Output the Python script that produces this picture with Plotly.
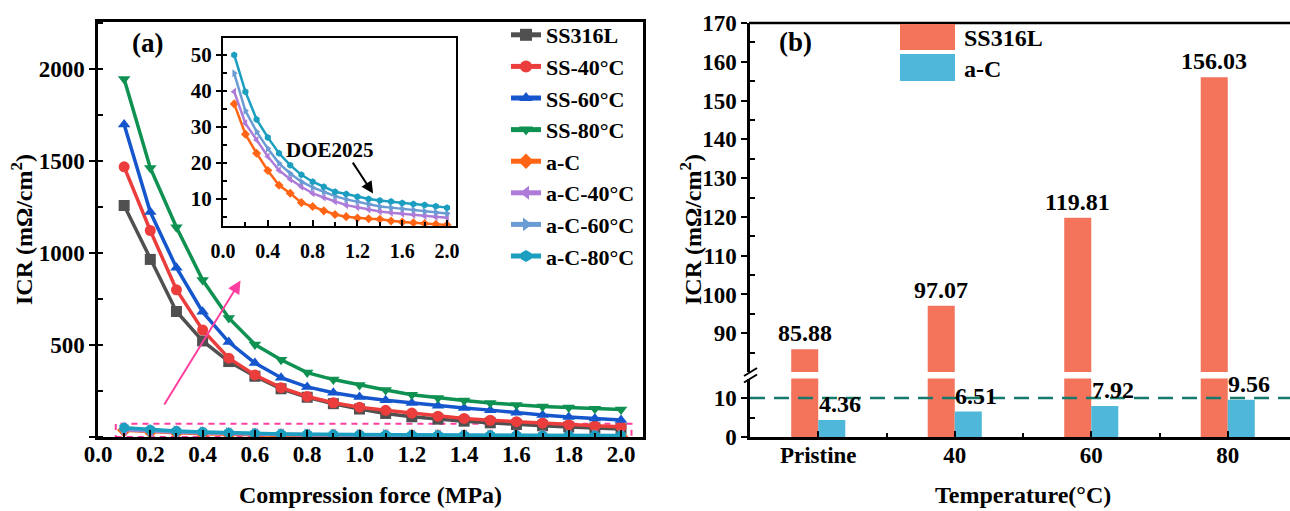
import plotly.graph_objects as go

W, H = 1290, 511
FONT = "Liberation Serif, Times New Roman, serif"

# ---- data -------------------------------------------------------------
pressure = [0.1, 0.2, 0.3, 0.4, 0.5, 0.6, 0.7, 0.8, 0.9, 1.0,
            1.1, 1.2, 1.3, 1.4, 1.5, 1.6, 1.7, 1.8, 1.9, 2.0]

ss316l = [1258, 965, 682, 522, 410, 330, 262, 216, 181, 152,
          128, 110, 97, 86, 77, 68, 61, 55, 49, 44]
ss_40 = [1468, 1122, 800, 582, 428, 337, 268, 220, 186, 162,
         145, 130, 113, 101, 91, 83, 76, 67, 61, 56]
ss_60 = [1698, 1222, 920, 680, 516, 402, 322, 272, 240, 217,
         200, 185, 170, 158, 146, 132, 120, 109, 100, 93]
ss_80 = [1945, 1462, 1140, 853, 647, 503, 420, 350, 312, 283,
         255, 230, 212, 198, 185, 174, 166, 160, 154, 149]

ac = [36.4, 28.0, 22.7, 17.9, 13.8, 11.6, 9.0, 7.9, 6.7, 5.7,
      5.1, 4.7, 4.5, 4.36, 3.9, 3.6, 3.4, 3.2, 3.0, 2.8]
ac_40 = [39.8, 31.0, 26.4, 21.8, 18.0, 15.5, 13.4, 11.6, 10.4, 9.3,
         8.3, 7.7, 7.1, 6.51, 6.2, 5.9, 5.6, 5.3, 5.0, 4.8]
ac_60 = [44.9, 34.5, 28.7, 24.0, 19.9, 17.1, 14.8, 13.2, 12.0, 10.8,
         9.9, 9.3, 8.6, 7.92, 7.6, 7.3, 7.0, 6.6, 6.3, 6.0]
ac_80 = [50.0, 39.8, 32.1, 27.1, 22.7, 19.4, 16.7, 14.8, 13.4, 12.0,
         11.4, 10.6, 10.0, 9.56, 9.3, 8.9, 8.6, 8.3, 8.0, 7.6]

series_names = ["SS316L", "SS-40°C", "SS-60°C", "SS-80°C",
                "a-C", "a-C-40°C", "a-C-60°C", "a-C-80°C"]
series_values = [ss316l, ss_40, ss_60, ss_80, ac, ac_40, ac_60, ac_80]
series_colors = ["#505050", "#ec3d3d", "#1656cc", "#0f9152",
                 "#ff6514", "#ae7bd8", "#6a9bd3", "#1b9ebf"]
series_symbols = ["square", "circle", "triangle-up", "triangle-down",
                  "diamond", "triangle-left", "triangle-right", "hexagon"]

temp_labels = ["Pristine", "40", "60", "80"]
icr_ss = [85.88, 97.07, 119.81, 156.03]
icr_ac = [4.36, 6.51, 7.92, 9.56]

doe_icr = 10
doe_pressure = 1.4


# ---- helpers: pixel -> paper fractions ---------------------------------
def px(x):
    return x / W


def py(y):
    return 1 - y / H


def bfont(size, color="black"):
    return dict(family=FONT, size=size, color=color, weight="bold")


def label(text, x, y, size, **kw):
    d = dict(text=text, xref="paper", yref="paper", x=px(x), y=py(y),
             xanchor="center", yanchor="middle", showarrow=False,
             font=bfont(size))
    d.update(kw)
    return d


fig = go.Figure()

# ---- (a) main curves ---------------------------------------------------
for name, vals, col, sym in zip(series_names, series_values,
                                series_colors, series_symbols):
    fig.add_trace(go.Scatter(
        x=pressure, y=vals, name=name, mode="lines+markers",
        line=dict(color=col, width=3.5),
        marker=dict(symbol=sym, size=11, color=col),
        xaxis="x", yaxis="y", legend="legend"))

# ---- (a) inset with the a-C coatings ----------------------------------
for name, vals, col, sym in zip(series_names[4:], series_values[4:],
                                series_colors[4:], series_symbols[4:]):
    fig.add_trace(go.Scatter(
        x=pressure, y=vals, name=name, mode="lines+markers",
        line=dict(color=col, width=2.5),
        marker=dict(symbol=sym, size=7, color=col),
        xaxis="x2", yaxis="y2", showlegend=False))

# ---- (b) bars on a broken axis (lower y3, upper y4) -------------------
bar_w = 0.198
pos = list(range(len(temp_labels)))
for yax in ("y3", "y4"):
    fig.add_trace(go.Bar(x=pos, y=icr_ss, width=bar_w, offset=-bar_w,
                         marker=dict(color="#f4735b", line=dict(width=0)),
                         xaxis="x3", yaxis=yax, showlegend=False, name="SS316L"))
    fig.add_trace(go.Bar(x=pos, y=icr_ac, width=bar_w, offset=0,
                         marker=dict(color="#4fb8da", line=dict(width=0)),
                         xaxis="x3", yaxis=yax, showlegend=False, name="a-C"))

axis_common = dict(showline=True, linecolor="black", linewidth=2.5,
                   showgrid=False, zeroline=False, automargin=False,
                   tickcolor="black", tickwidth=2)

layout = dict(
    width=W, height=H,
    margin=dict(l=0, r=0, t=0, b=0, pad=0, autoexpand=False),
    paper_bgcolor="white", plot_bgcolor="white",
    barmode="overlay",
    # main panel (a)
    xaxis=dict(axis_common, domain=[px(98), px(643)], range=[0, 2.084],
               anchor="y", mirror=True, ticks="inside", ticklen=7,
               tick0=0, dtick=0.2, tickformat=".1f", ticklabelstandoff=-5,
               minor=dict(ticks="inside", ticklen=4, dtick=0.1, tick0=0,
                          tickcolor="black", tickwidth=2),
               tickfont=bfont(23)),
    yaxis=dict(axis_common, domain=[py(437), py(22)], range=[0, 2255],
               anchor="x", mirror=True, ticks="outside", ticklen=6,
               tick0=0, dtick=500, labelalias={"0": " "},
               minor=dict(ticks="inside", ticklen=5, dtick=250, tick0=0,
                          tickcolor="black", tickwidth=2),
               tickfont=bfont(23)),
    # inset
    xaxis2=dict(axis_common, domain=[px(223), px(456)], range=[0, 2.08],
                anchor="y2", mirror=True, linewidth=2, ticks="inside",
                ticklen=6, tick0=0, dtick=0.4, tickformat=".1f",
                ticklabelstandoff=6,
                minor=dict(ticks="inside", ticklen=4, dtick=0.2, tick0=0,
                           tickcolor="black", tickwidth=2),
                tickfont=bfont(20)),
    yaxis2=dict(axis_common, domain=[py(226), py(38)], range=[2.5, 54.7],
                anchor="x2", mirror=True, linewidth=2, ticks="outside",
                ticklen=5, tick0=0, dtick=10,
                minor=dict(ticks="inside", ticklen=4, dtick=5, tick0=0,
                           tickcolor="black", tickwidth=2),
                tickfont=bfont(21)),
    # panel (b)
    xaxis3=dict(axis_common, domain=[px(750), 1.0], range=[-0.5, 3.456],
                anchor="y3", ticks="inside", ticklen=6, ticklabelstandoff=-4,
                tickmode="array", tickvals=pos, ticktext=temp_labels,
                minor=dict(ticks="inside", ticklen=4, tickmode="array",
                           tickvals=[0.5, 1.5, 2.5],
                           tickcolor="black", tickwidth=2),
                tickfont=bfont(23)),
    yaxis3=dict(axis_common, domain=[py(437), py(378.5)], range=[0, 15],
                anchor="x3", ticks="outside", ticklen=6,
                tickmode="array", tickvals=[0, 10],
                minor=dict(ticks="inside", ticklen=5, tickmode="array",
                           tickvals=[5], tickcolor="black", tickwidth=2),
                tickfont=bfont(23)),
    yaxis4=dict(axis_common, domain=[py(372), py(23)], range=[80, 170],
                anchor="x3", ticks="outside", ticklen=6,
                tickmode="array", tickvals=list(range(90, 171, 10)),
                minor=dict(ticks="inside", ticklen=5, tickmode="array",
                           tickvals=list(range(85, 170, 10)),
                           tickcolor="black", tickwidth=2),
                tickfont=bfont(23)),
    legend=dict(x=px(506), y=py(14), xanchor="left", yanchor="top",
                bgcolor="rgba(0,0,0,0)", borderwidth=0,
                font=bfont(22), tracegroupgap=0, itemsizing="constant"),
)
fig.update_layout(**layout)

shapes = []
# zoom region marker on the main panel
shapes.append(dict(type="rect", xref="x", yref="y", x0=0.068, x1=2.04,
                   y0=0, y1=72, line=dict(color="#ff3fa0", width=2, dash="6px,5px"),
                   layer="below"))
# DOE 2025 target lines in the inset
shapes.append(dict(type="line", xref="x2 domain", yref="y2", x0=0, x1=1,
                   y0=doe_icr, y1=doe_icr,
                   line=dict(color="black", width=1.8, dash="8px,6px"), layer="below"))
shapes.append(dict(type="line", xref="x2", yref="y2 domain",
                   x0=doe_pressure, x1=doe_pressure, y0=0, y1=1,
                   line=dict(color="black", width=1.8, dash="8px,6px"), layer="below"))
# DOE target on panel (b)
shapes.append(dict(type="line", xref="x3 domain", yref="y3", x0=0, x1=1,
                   y0=doe_icr, y1=doe_icr,
                   line=dict(color="#157a6c", width=2.5, dash="15px,9px"), layer="above"))
# top frame of panel (b)
shapes.append(dict(type="line", xref="paper", yref="paper",
                   x0=px(749), x1=1.0, y0=py(23), y1=py(23),
                   line=dict(color="black", width=2.5)))
# axis break marks
for yb in (372, 378.5):
    shapes.append(dict(type="line", xref="paper", yref="paper",
                       x0=px(744), x1=px(757), y0=py(yb + 4), y1=py(yb - 4),
                       line=dict(color="black", width=2)))
# legend swatches of panel (b)
shapes.append(dict(type="rect", xref="paper", yref="paper",
                   x0=px(900), x1=px(955), y0=py(50), y1=py(24),
                   fillcolor="#f4735b", line=dict(width=0)))
shapes.append(dict(type="rect", xref="paper", yref="paper",
                   x0=px(900), x1=px(955), y0=py(81), y1=py(54),
                   fillcolor="#4fb8da", line=dict(width=0)))
fig.update_layout(shapes=shapes)

ann = []
# panel labels
ann.append(label("(a)", 147, 43, 27))
ann.append(label("(b)", 795, 42, 27))
# axis titles
ann.append(label("ICR (mΩ/cm<sup>2</sup>)", 22, 230, 24, textangle=-90))
ann.append(label("ICR (mΩ/cm<sup>2</sup>)", 691, 230, 24, textangle=-90))
ann.append(label("Compression force (MPa)", 370, 495, 24))
ann.append(label("Temperature(°C)", 1023, 495, 24))
# trend arrow
ann.append(dict(xref="x", yref="y", axref="x", ayref="y",
                x=0.545, y=850, ax=0.25, ay=168, text="", showarrow=True,
                arrowhead=2, arrowsize=1.3, arrowwidth=2, arrowcolor="#ff3fa0"))
# DOE 2025 label and arrow
ann.append(label("DOE2025", 330, 150, 21))
ann.append(dict(xref="x2", yref="y2", axref="x2", ayref="y2",
                x=1.34, y=11.5, ax=1.15, ay=20.5, text="", showarrow=True,
                arrowhead=2, arrowsize=1.2, arrowwidth=2, arrowcolor="black"))
# bar value labels
for i, v in enumerate(icr_ss):
    ann.append(dict(text=f"{v:.2f}", xref="x3", yref="y4", x=i - bar_w / 2, y=v,
                    xanchor="center", yanchor="bottom", yshift=1,
                    showarrow=False, font=bfont(24)))
for i, v in enumerate(icr_ac):
    ann.append(dict(text=f"{v:.2f}", xref="x3", yref="y3", x=i + bar_w / 2, y=v,
                    xshift=8, xanchor="center", yanchor="bottom", yshift=1,
                    showarrow=False, font=bfont(24)))
# legend text of panel (b)
ann.append(label("SS316L", 962, 38, 24, xanchor="left"))
ann.append(label("a-C", 962, 69, 24, xanchor="left"))
fig.update_layout(annotations=ann)

fig.write_html("out.html")
